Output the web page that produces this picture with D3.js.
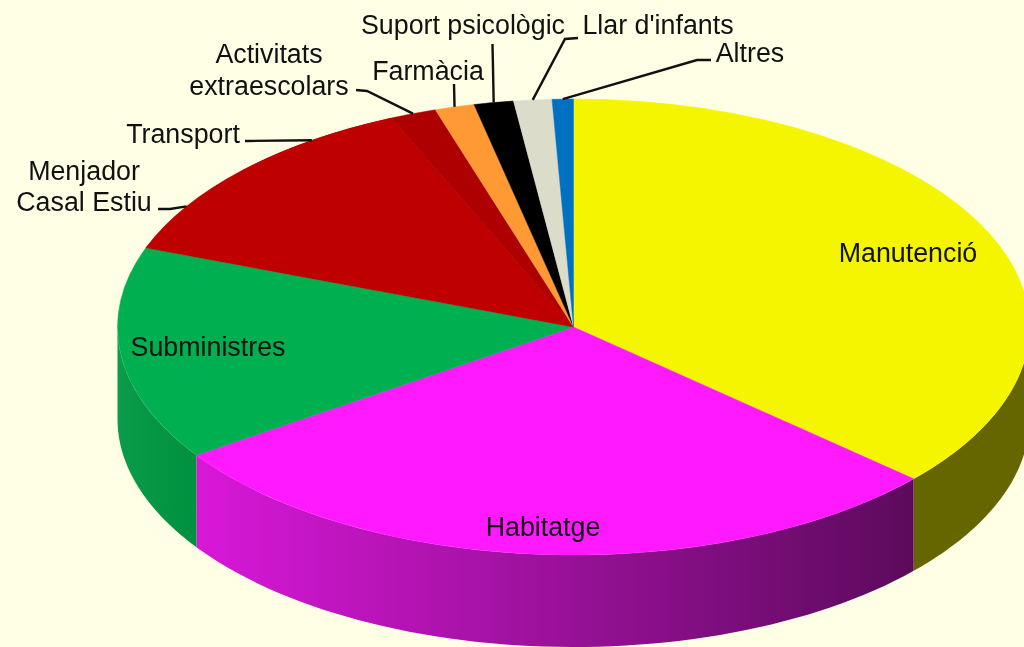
<!DOCTYPE html>
<html>
<head>
<meta charset="utf-8">
<script src="https://cdn.jsdelivr.net/npm/d3@7"></script>
<style>
  html, body { margin: 0; padding: 0; background: #ffffe6; overflow: hidden; }
  svg { display: block; filter: blur(0.5px); }
  text { font-family: "Liberation Sans", Arial, sans-serif; font-size: 26.8px; fill: #111; }
</style>
</head>
<body>
<div id="chart"></div>
<script>
// slices, clockwise from 12 o'clock (percent)
var categories = ["Manutenció", "Habitatge", "Subministres", "Menjador Casal Estiu", "Transport",
                  "Activitats extraescolars", "Farmàcia", "Suport psicològic", "Llar d'infants", "Altres"];
var values = [36.6, 28.9, 15.15, 6.45, 6.35, 1.65, 1.4, 1.4, 1.35, 0.75];
var colors = ["#f5f500", "#ff19ff", "#00b050", "#bf0000", "#bf0000",
              "#ae0000", "#ff9933", "#000000", "#dcdccb", "#0070c0"];
// side wall colours: left end and right end of each visible wall
var sideLeft = { 1: "#d818d8", 2: "#0a9c4a" };
var sideRight = { 0: "#666600", 1: "#5c0a5c", 2: "#00903f" };

var width = 1024, height = 647;
var cx = 573.5, cy = 327, rx = 456, ry = 228, depth = 92;

// label layout: text lines, anchor x, first baseline y, leader bend points
var labelLayout = [
  { i: 0, lines: ["Manutenció"], x: 908, y: 262 },
  { i: 1, lines: ["Habitatge"], x: 543, y: 536 },
  { i: 2, lines: ["Subministres"], x: 208, y: 356 },
  { i: 3, lines: ["Menjador", "Casal Estiu"], x: 84, y: 180, lh: 31, bend: [[158, 209], [170, 209]] },
  { i: 4, lines: ["Transport"], x: 183, y: 143, bend: [[245, 141]] },
  { i: 5, lines: ["Activitats", "extraescolars"], x: 269, y: 63, lh: 32, bend: [[356, 90], [367, 91]] },
  { i: 6, lines: ["Farmàcia"], x: 428, y: 80, bend: [[454, 84]] },
  { i: 7, lines: ["Suport psicològic"], x: 463, y: 34, bend: [[492.5, 44]] },
  { i: 8, lines: ["Llar d'infants"], x: 658, y: 34, bend: [[578, 38], [565, 39]] },
  { i: 9, lines: ["Altres"], x: 750, y: 62, bend: [[711, 60], [697, 60]] }
];

var svg = d3.select("#chart").append("svg")
  .attr("width", width)
  .attr("height", height);

var pie = d3.pie().sort(null);
var arcs = pie(values);

function px(a) { return cx + rx * Math.sin(a); }
function py(a) { return cy - ry * Math.cos(a); }

// side walls, only the part of a slice facing the viewer (90 to 270 degrees)
var defs = svg.append("defs");
var walls = svg.append("g");
arcs.forEach(function (d, i) {
  var a0 = Math.max(d.startAngle, Math.PI / 2),
      a1 = Math.min(d.endAngle, Math.PI * 1.5);
  if (a1 <= a0) return;
  var fill = sideRight[i];
  if (sideLeft[i]) {
    var grad = defs.append("linearGradient")
      .attr("id", "side" + i)
      .attr("gradientUnits", "userSpaceOnUse")
      .attr("x1", Math.min(px(a0), px(a1))).attr("x2", Math.max(px(a0), px(a1)))
      .attr("y1", 0).attr("y2", 0);
    grad.append("stop").attr("offset", 0).attr("stop-color", sideLeft[i]);
    grad.append("stop").attr("offset", 1).attr("stop-color", sideRight[i]);
    fill = "url(#side" + i + ")";
  }
  var p = d3.path();
  var steps = 60;
  for (var s = 0; s <= steps; s++) {
    var a = a0 + (a1 - a0) * s / steps;
    if (s === 0) p.moveTo(px(a), py(a)); else p.lineTo(px(a), py(a));
  }
  for (s = steps; s >= 0; s--) {
    a = a0 + (a1 - a0) * s / steps;
    p.lineTo(px(a), py(a) + depth);
  }
  p.closePath();
  walls.append("path").attr("d", p.toString()).attr("fill", fill);
});

// top face: a circle squashed into an ellipse
var arc = d3.arc().innerRadius(0).outerRadius(rx);
var face = svg.append("g")
  .attr("transform", "translate(" + cx + "," + cy + ") scale(1," + (ry / rx) + ")");

// neighbours with the same colour get one shape underneath so no seam shows
arcs.forEach(function (d, i) {
  if (i + 1 < arcs.length && colors[i] === colors[i + 1]) {
    face.append("path")
      .attr("d", arc({ startAngle: d.startAngle, endAngle: arcs[i + 1].endAngle }))
      .attr("fill", colors[i]);
  }
});

face.selectAll("path.slice")
  .data(arcs)
  .enter()
  .append("path")
    .attr("class", "slice")
    .attr("d", arc)
    .attr("fill", function (d, i) { return colors[i]; })
    .attr("stroke", function (d, i) { return colors[i]; })
    .attr("stroke-width", 0.6);

// leaders run from the label bend to the slice's mid angle on the rim
var line = d3.line();
labelLayout.forEach(function (l) {
  if (!l.bend) return;
  var d = arcs[l.i], mid = (d.startAngle + d.endAngle) / 2;
  svg.append("path")
    .attr("d", line(l.bend.concat([[px(mid), py(mid)]])))
    .attr("fill", "none")
    .attr("stroke", "#111")
    .attr("stroke-width", 2.4);
});

labelLayout.forEach(function (l) {
  l.lines.forEach(function (t, k) {
    svg.append("text")
      .attr("x", l.x)
      .attr("y", l.y + k * (l.lh || 0))
      .attr("text-anchor", "middle")
      .text(t);
  });
});
</script>
</body>
</html>
